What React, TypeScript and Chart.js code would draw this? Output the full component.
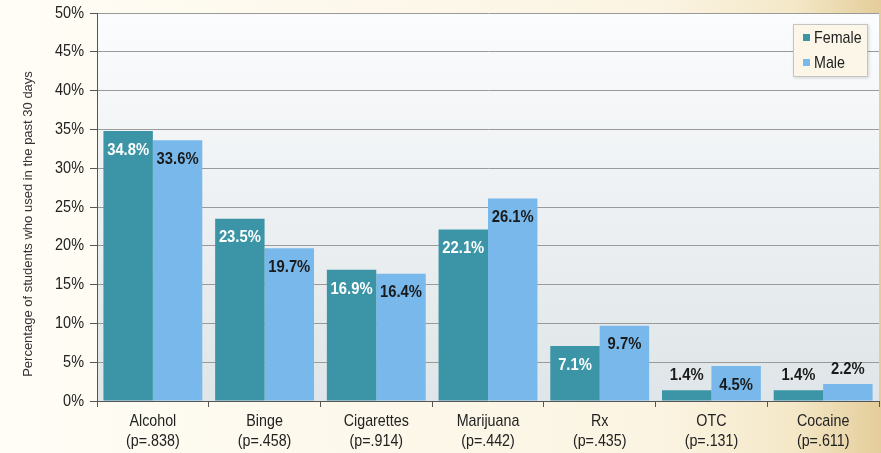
import React, { useEffect, useRef } from 'react';
import { Chart, registerables } from 'chart.js';

Chart.register(...registerables);

const categories = ['Alcohol', 'Binge', 'Cigarettes', 'Marijuana', 'Rx', 'OTC', 'Cocaine'];
const pValues = ['(p=.838)', '(p=.458)', '(p=.914)', '(p=.442)', '(p=.435)', '(p=.131)', '(p=.611)'];
const femaleValues = [34.8, 23.5, 16.9, 22.1, 7.1, 1.4, 1.4];
const maleValues = [33.6, 19.7, 16.4, 26.1, 9.7, 4.5, 2.2];
const seriesNames = ['Female', 'Male'];
const yAxisTitle = 'Percentage of students who used in the past 30 days';

const FEMALE_COLOR = '#3b95a7';
const MALE_COLOR = '#78b8ea';
const FONT = '"Liberation Sans", Arial, sans-serif';
const TEXT_COLOR = '#222222';

// draw horizontally condensed text (reference uses a narrow face)
function drawText(ctx: any, text: string, x: number, y: number, font: string, sx: number, align: string, color: string) {
  ctx.save();
  ctx.translate(x, y);
  ctx.scale(sx, 1);
  ctx.font = font;
  ctx.textAlign = align;
  ctx.textBaseline = 'middle';
  ctx.fillStyle = color;
  ctx.fillText(text, 0, 0);
  ctx.restore();
}

const backgroundPlugin = {
  id: 'bgPlugin',
  beforeDraw(chart: any) {
    const { ctx, width, height, chartArea } = chart;
    ctx.save();
    const g = ctx.createLinearGradient(0, 0, width, 0);
    g.addColorStop(0, '#fffdf6');
    g.addColorStop(0.75, '#fbf4e2');
    g.addColorStop(0.9, '#f4e8c8');
    g.addColorStop(1, '#e4cd9a');
    ctx.fillStyle = g;
    ctx.fillRect(0, 0, width, height);
    const pg = ctx.createLinearGradient(0, chartArea.top, 0, chartArea.bottom);
    pg.addColorStop(0, '#fbfcfd');
    pg.addColorStop(1, '#dfe5e8');
    ctx.fillStyle = pg;
    ctx.fillRect(chartArea.left, chartArea.top, chartArea.right - chartArea.left, chartArea.bottom - chartArea.top);
    ctx.restore();
  },
};

const labelPlugin = {
  id: 'labelPlugin',
  afterDatasetsDraw(chart: any) {
    const { ctx } = chart;
    chart.data.datasets.forEach((ds: any, di: number) => {
      const meta = chart.getDatasetMeta(di);
      meta.data.forEach((bar: any, i: number) => {
        const v = ds.data[i];
        const h = bar.base - bar.y;
        let y: number;
        let color: string;
        if (h < 22) {
          y = bar.y - 15;
          color = '#1a1a1a';
        } else {
          y = bar.y + 19;
          color = di === 0 ? '#ffffff' : '#1a1a1a';
        }
        drawText(ctx, v.toFixed(1) + '%', bar.x, y, `bold 17px ${FONT}`, 0.87, 'center', color);
      });
    });
  },
};

const overlayPlugin = {
  id: 'overlayPlugin',
  afterDraw(chart: any) {
    const { ctx, chartArea } = chart;
    const xs = chart.scales.x;
    const ys = chart.scales.y;

    // axis tick labels
    ys.ticks.forEach((t: any) => {
      const py = ys.getPixelForValue(t.value);
      drawText(ctx, t.value + '%', chartArea.left - 13, py, `17px ${FONT}`, 0.85, 'right', TEXT_COLOR);
    });
    categories.forEach((c, i) => {
      const px = xs.getPixelForValue(i);
      drawText(ctx, c, px, chartArea.bottom + 20, `17px ${FONT}`, 0.84, 'center', TEXT_COLOR);
      drawText(ctx, pValues[i], px, chartArea.bottom + 40, `17px ${FONT}`, 0.84, 'center', TEXT_COLOR);
    });

    // y axis title
    ctx.save();
    ctx.translate(28, 224);
    ctx.rotate(-Math.PI / 2);
    ctx.font = `13px ${FONT}`;
    ctx.fillStyle = '#333333';
    ctx.textAlign = 'center';
    ctx.textBaseline = 'middle';
    ctx.fillText(yAxisTitle, 0, 0);
    ctx.restore();

    // legend
    ctx.save();
    const bx = 793, by = 24, bw = 75, bh = 53;
    ctx.shadowColor = 'rgba(0,0,0,0.15)';
    ctx.shadowBlur = 3;
    ctx.shadowOffsetX = 1;
    ctx.shadowOffsetY = 1;
    ctx.fillStyle = '#fbf6e8';
    ctx.fillRect(bx, by, bw, bh);
    ctx.shadowColor = 'transparent';
    ctx.strokeStyle = '#c4c4c4';
    ctx.lineWidth = 1;
    ctx.strokeRect(bx + 0.5, by + 0.5, bw - 1, bh - 1);
    ctx.restore();
    const colors = [FEMALE_COLOR, MALE_COLOR];
    seriesNames.forEach((name, i) => {
      const cy = 38 + i * 25;
      ctx.save();
      ctx.fillStyle = colors[i];
      ctx.fillRect(803, cy - 4, 7, 7);
      ctx.restore();
      drawText(ctx, name, 814, cy, `17px ${FONT}`, 0.84, 'left', TEXT_COLOR);
    });
  },
};

export default function App() {
  const canvasRef = useRef<HTMLCanvasElement | null>(null);

  useEffect(() => {
    document.body.style.margin = '0';
    const canvas = canvasRef.current;
    if (!canvas) return;
    const chart = new Chart(canvas, {
      type: 'bar',
      data: {
        labels: categories.map((c, i) => [c, pValues[i]]),
        datasets: [
          {
            label: seriesNames[0],
            data: femaleValues,
            backgroundColor: FEMALE_COLOR,
            categoryPercentage: 0.885,
            barPercentage: 1,
          },
          {
            label: seriesNames[1],
            data: maleValues,
            backgroundColor: MALE_COLOR,
            categoryPercentage: 0.885,
            barPercentage: 1,
          },
        ],
      },
      options: {
        animation: false,
        responsive: false,
        maintainAspectRatio: false,
        devicePixelRatio: 1,
        layout: { padding: { left: 0, right: 2, top: 13, bottom: 0 } },
        plugins: {
          legend: { display: false },
          tooltip: { enabled: false },
          title: { display: false },
        },
        scales: {
          x: {
            offset: true,
            grid: {
              offset: true,
              drawOnChartArea: false,
              drawTicks: true,
              tickLength: 6,
              tickColor: '#555555',
            },
            border: { display: true, color: '#555555', width: 1 },
            ticks: {
              color: 'rgba(0,0,0,0)',
              font: { family: FONT, size: 14 },
              maxRotation: 0,
              autoSkip: false,
            },
            afterFit: (s: any) => {
              s.height = 52;
            },
          },
          y: {
            min: 0,
            max: 50,
            grid: {
              color: '#9a9a9a',
              lineWidth: 1,
              tickLength: 7,
              tickColor: '#555555',
            },
            border: { display: true, color: '#555555', width: 1 },
            ticks: {
              stepSize: 5,
              color: 'rgba(0,0,0,0)',
              font: { family: FONT, size: 14 },
              callback: (v: any) => v + '%',
            },
            afterFit: (s: any) => {
              s.width = 97;
            },
          },
        },
      },
      plugins: [backgroundPlugin, labelPlugin, overlayPlugin],
    });
    return () => chart.destroy();
  }, []);

  return (
    <div style={{ position: 'fixed', left: 0, top: 0, width: 881, height: 453 }}>
      <canvas ref={canvasRef} width={881} height={453} style={{ display: 'block' }} />
    </div>
  );
}
